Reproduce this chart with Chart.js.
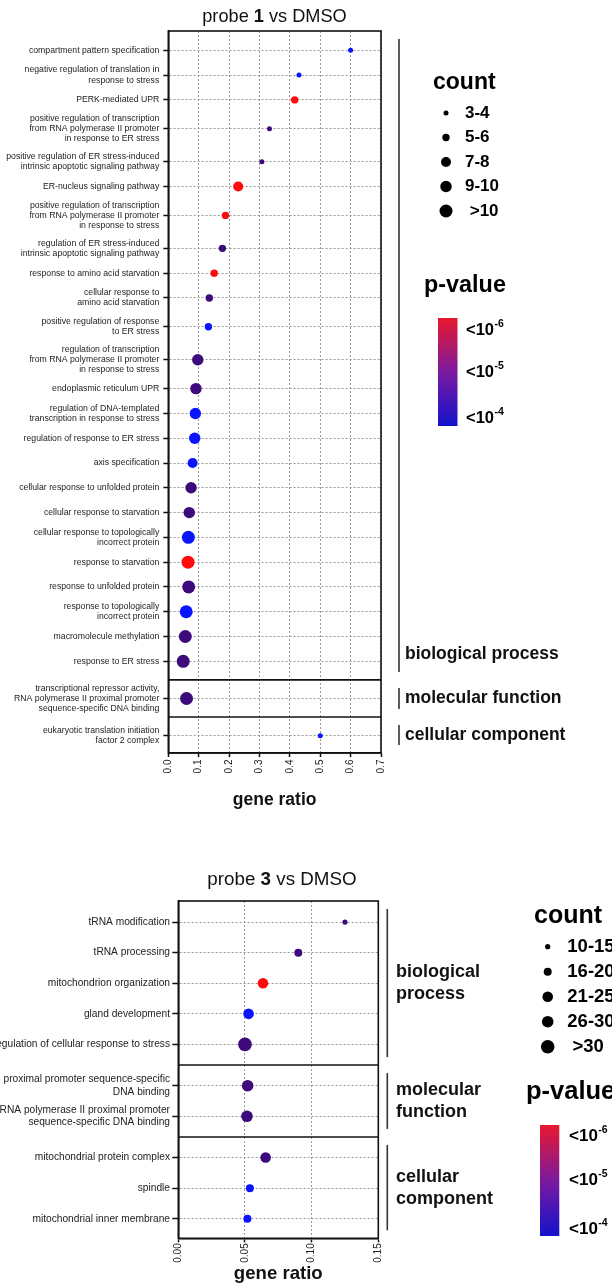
<!DOCTYPE html>
<html>
<head>
<meta charset="utf-8">
<title>GO enrichment – probe 1 and probe 3 vs DMSO</title>
<script src="https://cdn.jsdelivr.net/npm/chart.js@4.4.1/dist/chart.umd.min.js"></script>
<style>
  html, body { margin: 0; padding: 0; background: #fff; }
  body { width: 612px; height: 1284px; position: relative; overflow: hidden; }
  canvas { position: absolute; left: 0; }
  #probe1 { top: 0; }
  #probe3 { top: 830px; }
</style>
</head>
<body>
<canvas id="probe1" width="612" height="830"></canvas>
<canvas id="probe3" width="612" height="454"></canvas>
<script>
const FONT = "'Liberation Sans', Arial, Helvetica, sans-serif";
const INK = '#111';

// ---------- probe 1 vs DMSO ----------
const title1 = ['probe ', '1', ' vs DMSO'];
const sections1 = ['biological process', 'molecular function', 'cellular component'];
const sectionSizes1 = [24, 1, 1];
const terms1 = [
  ['compartment pattern specification'],
  ['negative regulation of translation in', 'response to stress'],
  ['PERK-mediated UPR'],
  ['positive regulation of transcription', 'from RNA polymerase II promoter', 'in response to ER stress'],
  ['positive regulation of ER stress-induced', 'intrinsic apoptotic signaling pathway'],
  ['ER-nucleus signaling pathway'],
  ['positive regulation of transcription', 'from RNA polymerase II promoter', 'in response to stress'],
  ['regulation of ER stress-induced', 'intrinsic apoptotic signaling pathway'],
  ['response to amino acid starvation'],
  ['cellular response to', 'amino acid starvation'],
  ['positive regulation of response', 'to ER stress'],
  ['regulation of transcription', 'from RNA polymerase II promoter', 'in response to stress'],
  ['endoplasmic reticulum UPR'],
  ['regulation of DNA-templated', 'transcription in response to stress'],
  ['regulation of response to ER stress'],
  ['axis specification'],
  ['cellular response to unfolded protein'],
  ['cellular response to starvation'],
  ['cellular response to topologically', 'incorrect protein'],
  ['response to starvation'],
  ['response to unfolded protein'],
  ['response to topologically', 'incorrect protein'],
  ['macromolecule methylation'],
  ['response to ER stress'],
  ['transcriptional repressor activity,', 'RNA polymerase II proximal promoter', 'sequence-specific DNA binding'],
  ['eukaryotic translation initiation', 'factor 2 complex']
];
const ratio1 = [0.600, 0.430, 0.416, 0.333, 0.308, 0.230, 0.188, 0.178, 0.151, 0.135, 0.132, 0.097, 0.091,
                0.089, 0.087, 0.080, 0.075, 0.069, 0.066, 0.065, 0.067, 0.059, 0.056, 0.049, 0.060, 0.500];
const count1 = [3, 3, 5, 3, 4, 7, 6, 6, 5, 5, 5, 9, 10, 9, 9, 8, 10, 10, 11, 14, 11, 11, 12, 12, 11, 3];
const pExp1  = [-4, -4, -6, -5, -5, -6, -6, -5, -6, -5, -4, -5, -5, -4, -4, -4, -5, -5, -4, -6, -5, -4, -5, -5, -5, -4];
const xTicks1 = [0, 0.1, 0.2, 0.3, 0.4, 0.5, 0.6, 0.7];
const countBins1 = ['3-4', '5-6', '7-8', '9-10', ' >10'];
const countEdges1 = [4, 6, 8, 10];

// ---------- probe 3 vs DMSO ----------
const title3 = ['probe ', '3', ' vs DMSO'];
const sections3 = [['biological', 'process'], ['molecular', 'function'], ['cellular', 'component']];
const sectionSizes3 = [5, 2, 3];
const terms3 = [
  ['tRNA modification'],
  ['tRNA processing'],
  ['mitochondrion organization'],
  ['gland development'],
  ['regulation of cellular response to stress'],
  ['proximal promoter sequence-specific', 'DNA binding'],
  ['RNA polymerase II proximal promoter', 'sequence-specific DNA binding'],
  ['mitochondrial protein complex'],
  ['spindle'],
  ['mitochondrial inner membrane']
];
const ratio3 = [0.125, 0.090, 0.0635, 0.0527, 0.050, 0.052, 0.0515, 0.0655, 0.0537, 0.0518];
const count3 = [12, 18, 23, 22, 34, 28, 27, 24, 17, 18];
const pExp3  = [-5, -5, -6, -4, -5, -5, -5, -5, -4, -4];
const xTicks3 = [0, 0.05, 0.10, 0.15];
const countBins3 = ['10-15', '16-20', '21-25', '26-30', ' >30'];
const countEdges3 = [15, 20, 25, 30];

// shared p-value key
const pLegendExp = [-6, -5, -4];
const pColor = { '-6': '#ff0b0b', '-5': '#3d0a7c', '-4': '#0a14ff' };

// ---------- layout / style ----------
const L1 = {
  plotLeft: 168.3, plotRight: 381, plotTop: 31, xAxisH: 77,
  padRows: [0.78, 0.70], extraPerLine: 0.165, sectionGap: 1.5,
  tickFont: 8.7, tickLine: 1.18, tickPad: 4, tickLen: 5,
  xTickFont: 10, xTickLen: 4, xTickPad: 2.5, xDec: 1,
  xTitle: 17.5, xTitlePad: 21,
  title: { cx: 274.5, cy: 17, size: 18.2 },
  bracket: { x: 399, inset: 8, textGap: 6, size: 17.5, lineH: 21, anchors: ['end', 'center', 'center'] },
  count: { tx: 433, ty: 83, tsize: 23, dotX: 446, labelX: 465, y0: 113, dy: 24.5, size: 17, radii: [2.5, 3.7, 5, 5.7, 6.5] },
  pval: { tx: 424, ty: 286, tsize: 23.4, barX: 438, barY: 318, barW: 19.5, barH: 108, labelX: 466, size: 16.5, sup: 10.5, top: 12, bottom: 8 }
};
const L3 = {
  plotLeft: 178.3, plotRight: 378.3, plotTop: 71, xAxisH: 45.7,
  padRows: [0.69, 0.64], extraPerLine: 0, sectionGap: 1.35,
  tickFont: 10.2, tickLine: 1.18, tickPad: 2.3, tickLen: 6,
  xTickFont: 10, xTickLen: 4, xTickPad: 1, xDec: 2,
  xTitle: 18.6, xTitlePad: 0.7,
  title: { cx: 282, cy: 50, size: 18.8 },
  bracket: { x: 387.3, inset: 8, textGap: 8.7, size: 18, lineH: 22, anchors: ['center', 'center', 'center'] },
  count: { tx: 534, ty: 86, tsize: 25, dotX: 547.7, labelX: 567.3, y0: 116.7, dy: 25, size: 18.5, radii: [2.6, 4, 5.3, 5.8, 6.8] },
  pval: { tx: 526, ty: 261.7, tsize: 25.5, barX: 540, barY: 295, barW: 19.3, barH: 111, labelX: 569, size: 17, sup: 10.5, top: 11.7, bottom: 7 }
};

// Row positions: one unit per term, a little more where tall (multi-line) labels meet,
// and a wider gap between GO sections.
function rowLayout(terms, sizes, L) {
  const sec = [];
  sizes.forEach((n, s) => { for (let k = 0; k < n; k++) sec.push(s); });
  const pos = [];
  let y = 0;
  terms.forEach((t, i) => {
    if (i > 0) {
      if (sec[i] !== sec[i - 1]) y += L.sectionGap;
      else y += 1 + L.extraPerLine * Math.max(0, terms[i - 1].length + t.length - 3);
    }
    pos.push(y);
  });
  const min = -L.padRows[0];
  const max = pos[pos.length - 1] + L.padRows[1];
  const bounds = [min];
  for (let i = 1; i < pos.length; i++) {
    if (sec[i] !== sec[i - 1]) bounds.push((pos[i - 1] + pos[i]) / 2);
  }
  bounds.push(max);
  return { pos, sec, min, max, bounds };
}

function binIndex(c, edges) {
  let i = 0;
  while (i < edges.length && c > edges[i]) i++;
  return i;
}

function font(size, bold) {
  return (bold ? 'bold ' : '') + size + 'px ' + FONT;
}

function drawTitle(ctx, parts, T) {
  ctx.save();
  ctx.fillStyle = INK;
  ctx.textBaseline = 'middle';
  ctx.textAlign = 'left';
  const widths = parts.map((p, i) => { ctx.font = font(T.size, i === 1); return ctx.measureText(p).width; });
  let x = T.cx - widths.reduce((a, b) => a + b, 0) / 2;
  parts.forEach((p, i) => {
    ctx.font = font(T.size, i === 1);
    ctx.fillText(p, x, T.cy);
    x += widths[i];
  });
  ctx.restore();
}

function framePlugin(spec) {
  const L = spec.L;
  return {
    id: 'frame',
    afterDatasetsDraw(chart) {
      const { ctx, chartArea: a } = chart;
      const ys = chart.scales.y;
      ctx.save();
      ctx.strokeStyle = INK;
      ctx.lineWidth = 1.6;
      ctx.strokeRect(a.left, a.top, a.right - a.left, a.bottom - a.top);
      spec.rows.bounds.slice(1, -1).forEach(v => {
        const y = ys.getPixelForValue(v);
        ctx.beginPath();
        ctx.moveTo(a.left, y);
        ctx.lineTo(a.right, y);
        ctx.stroke();
      });
      ctx.restore();
    },
    afterDraw(chart) {
      const ctx = chart.ctx;
      const ys = chart.scales.y;
      drawTitle(ctx, spec.title, L.title);

      // section brackets and names
      const B = L.bracket;
      ctx.save();
      ctx.strokeStyle = '#333';
      ctx.lineWidth = 1.6;
      ctx.fillStyle = INK;
      ctx.textBaseline = 'middle';
      ctx.textAlign = 'left';
      ctx.font = font(B.size, true);
      spec.sections.forEach((name, s) => {
        const y0 = ys.getPixelForValue(spec.rows.bounds[s]) + B.inset;
        const y1 = ys.getPixelForValue(spec.rows.bounds[s + 1]) - B.inset;
        ctx.beginPath();
        ctx.moveTo(B.x, y0);
        ctx.lineTo(B.x, y1);
        ctx.stroke();
        const lines = Array.isArray(name) ? name : [name];
        const mid = B.anchors[s] === 'end' ? y1 - 18 : (y0 + y1) / 2;
        lines.forEach((ln, k) => {
          ctx.fillText(ln, B.x + B.textGap, mid + (k - (lines.length - 1) / 2) * B.lineH);
        });
      });
      ctx.restore();

      // count key
      const C = L.count;
      ctx.save();
      ctx.fillStyle = '#000';
      ctx.textBaseline = 'middle';
      ctx.textAlign = 'left';
      ctx.font = font(C.tsize, true);
      ctx.fillText('count', C.tx, C.ty);
      ctx.font = font(C.size, true);
      spec.countBins.forEach((lab, i) => {
        const y = C.y0 + i * C.dy;
        ctx.beginPath();
        ctx.arc(C.dotX, y, C.radii[i], 0, Math.PI * 2);
        ctx.fill();
        ctx.fillText(lab, C.labelX, y);
      });
      ctx.restore();

      // p-value key
      const P = L.pval;
      ctx.save();
      ctx.fillStyle = '#000';
      ctx.textBaseline = 'middle';
      ctx.textAlign = 'left';
      ctx.font = font(P.tsize, true);
      ctx.fillText('p-value', P.tx, P.ty);
      const g = ctx.createLinearGradient(0, P.barY, 0, P.barY + P.barH);
      g.addColorStop(0, '#e8182e');
      g.addColorStop(0.5, '#7b1a9f');
      g.addColorStop(1, '#1412cc');
      ctx.fillStyle = g;
      ctx.fillRect(P.barX, P.barY, P.barW, P.barH);
      ctx.fillStyle = '#000';
      const ly = [P.barY + P.top, P.barY + P.barH / 2, P.barY + P.barH - P.bottom];
      pLegendExp.forEach((e, i) => {
        ctx.font = font(P.size, true);
        ctx.fillText('<10', P.labelX, ly[i]);
        const w = ctx.measureText('<10').width;
        ctx.font = font(P.sup, true);
        ctx.fillText(String(e), P.labelX + w + 0.5, ly[i] - P.size * 0.36);
      });
      ctx.restore();
    }
  };
}

function buildChart(canvasId, spec) {
  const L = spec.L;
  const rows = rowLayout(spec.terms, spec.sectionSizes, L);
  spec.rows = rows;
  const canvas = document.getElementById(canvasId);
  const tickColor = '#222';
  const gridCommon = { color: '#9a9a9a', lineWidth: 1, tickColor: INK, tickWidth: 1.5 };
  return new Chart(canvas, {
    type: 'scatter',
    data: {
      datasets: [{
        data: spec.ratio.map((r, i) => ({ x: r, y: rows.pos[i] })),
        pointRadius: spec.count.map(c => L.count.radii[binIndex(c, spec.countEdges)]),
        pointBackgroundColor: spec.pExp.map(e => pColor[e]),
        pointBorderWidth: 0,
        pointBorderColor: 'rgba(0,0,0,0)'
      }]
    },
    options: {
      responsive: false,
      animation: false,
      events: [],
      layout: { padding: { top: L.plotTop, right: canvas.width - L.plotRight, left: 0, bottom: 0 } },
      plugins: { legend: { display: false }, tooltip: { enabled: false } },
      scales: {
        x: {
          type: 'linear',
          min: spec.xTicks[0],
          max: spec.xTicks[spec.xTicks.length - 1],
          afterBuildTicks: s => { s.ticks = spec.xTicks.map(v => ({ value: v })); },
          afterFit: s => { s.height = L.xAxisH; },
          ticks: {
            autoSkip: false,
            minRotation: 90,
            maxRotation: 90,
            padding: L.xTickPad,
            color: tickColor,
            font: { family: FONT, size: L.xTickFont },
            callback: v => Number(v).toFixed(L.xDec)
          },
          grid: Object.assign({ tickLength: L.xTickLen }, gridCommon),
          border: { display: true, color: INK, width: 1.6, dash: [2, 2] },
          title: {
            display: true,
            text: 'gene ratio',
            color: INK,
            font: { family: FONT, size: L.xTitle, weight: 'bold', lineHeight: 1 },
            padding: { top: 0, bottom: L.xTitlePad }
          }
        },
        y: {
          type: 'linear',
          reverse: true,
          min: rows.min,
          max: rows.max,
          afterBuildTicks: s => { s.ticks = rows.pos.map(v => ({ value: v })); },
          afterFit: s => { s.width = L.plotLeft; },
          ticks: {
            autoSkip: false,
            padding: L.tickPad,
            color: tickColor,
            font: { family: FONT, size: L.tickFont, lineHeight: L.tickLine },
            callback: (v, i) => spec.terms[i]
          },
          grid: Object.assign({ tickLength: L.tickLen }, gridCommon),
          border: { display: true, color: INK, width: 1.6, dash: [2, 2] }
        }
      }
    },
    plugins: [framePlugin(spec)]
  });
}

buildChart('probe1', {
  L: L1, title: title1, sections: sections1, sectionSizes: sectionSizes1,
  terms: terms1, ratio: ratio1, count: count1, pExp: pExp1,
  xTicks: xTicks1, countBins: countBins1, countEdges: countEdges1
});
buildChart('probe3', {
  L: L3, title: title3, sections: sections3, sectionSizes: sectionSizes3,
  terms: terms3, ratio: ratio3, count: count3, pExp: pExp3,
  xTicks: xTicks3, countBins: countBins3, countEdges: countEdges3
});
</script>
</body>
</html>
